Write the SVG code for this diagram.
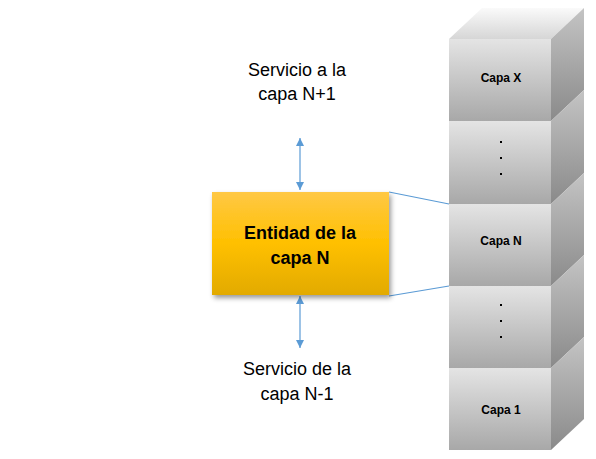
<svg xmlns="http://www.w3.org/2000/svg" width="596" height="459" viewBox="0 0 596 459">
<defs>
  <linearGradient id="gFront" x1="0" y1="0" x2="0" y2="1">
    <stop offset="0" stop-color="#e4e4e4"/>
    <stop offset="1" stop-color="#a8a8a8"/>
  </linearGradient>
  <linearGradient id="gSide" x1="0" y1="0" x2="0" y2="1">
    <stop offset="0" stop-color="#c4c4c4"/>
    <stop offset="1" stop-color="#8a8a8a"/>
  </linearGradient>
  <linearGradient id="gTop" x1="0" y1="0" x2="0" y2="1">
    <stop offset="0" stop-color="#fafafa"/>
    <stop offset="1" stop-color="#d6d6d6"/>
  </linearGradient>
  <linearGradient id="gOrange" x1="0" y1="0" x2="0" y2="1">
    <stop offset="0" stop-color="#ffc845"/>
    <stop offset="0.5" stop-color="#ffc000"/>
    <stop offset="1" stop-color="#e2aa00"/>
  </linearGradient>
  <filter id="shadow" x="-10%" y="-10%" width="130%" height="140%">
    <feDropShadow dx="2" dy="3" stdDeviation="2.5" flood-color="#000" flood-opacity="0.4"/>
  </filter>
  <marker id="ah" viewBox="0 0 10 10" refX="10" refY="5" markerWidth="8" markerHeight="8" markerUnits="userSpaceOnUse" orient="auto-start-reverse">
    <path d="M0,0 L10,5 L0,10 z" fill="#5b9bd5"/>
  </marker>
  <style>
    .front{fill:url(#gFront)}
    .side{fill:url(#gSide)}
    .top{fill:url(#gTop)}
    .lbl{font-family:"Liberation Sans",Arial,sans-serif;font-size:18px;fill:#000;text-anchor:middle}
    .cl{font-family:"Liberation Sans",Arial,sans-serif;font-size:12px;font-weight:bold;fill:#000;text-anchor:middle}
    .ent{font-family:"Liberation Sans",Arial,sans-serif;font-size:18px;font-weight:bold;fill:#000;text-anchor:middle}
    .conn{stroke:#5b9bd5;stroke-width:1.2;fill:none}
    .dot{fill:#000}
  </style>
</defs>
<rect width="596" height="459" fill="#fff"/>

<g id="stack">
  <g id="capa-x">
    <polygon class="top" points="449,39 482,8 584,8 551,39"/>
    <polygon class="side" points="551,39 584,8 584,90 551,121"/>
    <rect class="front" x="449" y="39" width="102" height="82"/>
    <text class="cl" x="501" y="82">Capa X</text>
  </g>
  <g id="capa-dots-upper">
    <polygon class="side" points="551,121 584,90 584,173 551,204"/>
    <rect class="front" x="449" y="121" width="102" height="83"/>
    <rect class="dot" x="500" y="141" width="2" height="2"/>
    <rect class="dot" x="500" y="157" width="2" height="2"/>
    <rect class="dot" x="500" y="173" width="2" height="2"/>
  </g>
  <g id="capa-n">
    <polygon class="side" points="551,204 584,173 584,255 551,286"/>
    <rect class="front" x="449" y="204" width="102" height="82"/>
    <text class="cl" x="501" y="245">Capa N</text>
  </g>
  <g id="capa-dots-lower">
    <polygon class="side" points="551,286 584,255 584,337 551,368"/>
    <rect class="front" x="449" y="286" width="102" height="82"/>
    <rect class="dot" x="500" y="304" width="2" height="2"/>
    <rect class="dot" x="500" y="320" width="2" height="2"/>
    <rect class="dot" x="500" y="336" width="2" height="2"/>
  </g>
  <g id="capa-1">
    <polygon class="side" points="551,368 584,337 584,419 551,450"/>
    <rect class="front" x="449" y="368" width="102" height="82"/>
    <text class="cl" x="501" y="414">Capa 1</text>
  </g>
</g>

<g id="connectors">
  <line class="conn" x1="389" y1="192" x2="449" y2="204"/>
  <line class="conn" x1="389" y1="296" x2="449" y2="286"/>
  <line class="conn" x1="300" y1="138" x2="300" y2="190" marker-start="url(#ah)" marker-end="url(#ah)"/>
  <line class="conn" x1="300" y1="296" x2="300" y2="348" marker-start="url(#ah)" marker-end="url(#ah)"/>
</g>

<g id="entidad">
  <rect x="212" y="192" width="177" height="103" fill="url(#gOrange)" filter="url(#shadow)"/>
  <text class="ent" x="300" y="239">Entidad de la</text>
  <text class="ent" x="300" y="264">capa N</text>
</g>

<g id="servicio-sup">
  <text class="lbl" x="297" y="76">Servicio a la</text>
  <text class="lbl" x="297" y="100">capa N+1</text>
</g>
<g id="servicio-inf">
  <text class="lbl" x="297" y="375">Servicio de la</text>
  <text class="lbl" x="297" y="400">capa N-1</text>
</g>
</svg>
